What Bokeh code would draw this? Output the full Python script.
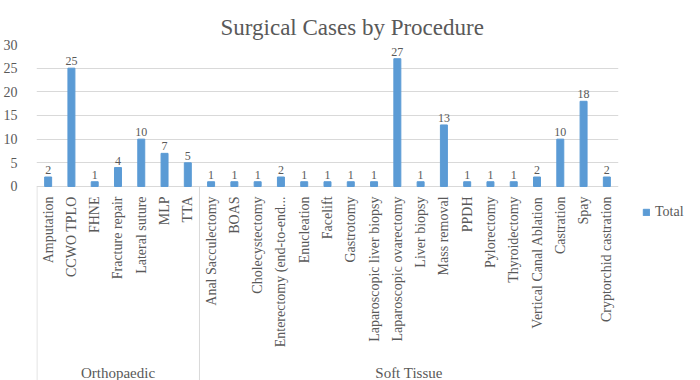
import math
from bokeh.plotting import figure
from bokeh.models import FactorRange, ColumnDataSource, Range1d, FixedTicker, Legend, LegendItem
from bokeh.core.properties import value
from bokeh.embed import file_html
from bokeh.resources import INLINE

title = "Surgical Cases by Procedure"
groups = ["Orthopaedic"] * 7 + ["Soft Tissue"] * 21
procedures = [
    "Amputation", "CCWO TPLO", "FHNE", "Fracture repair", "Lateral suture", "MLP", "TTA",
    "Anal Sacculectomy", "BOAS", "Cholecystectomy", "Enterectomy (end-to-end...",
    "Enucleation", "Facelift", "Gastrotomy", "Laparoscopic liver biopsy",
    "Laparoscopic ovarectomy", "Liver biopsy", "Mass removal", "PPDH", "Pylorectomy",
    "Thyroidectomy", "Vertical Canal Ablation", "Castration", "Spay", "Cryptorchid castration",
]
totals = [2, 25, 1, 4, 10, 7, 5,
          1, 1, 1, 2, 1, 1, 1, 1, 27, 1, 13, 1, 1, 1, 2, 10, 18, 2]
y_ticks = [0, 5, 10, 15, 20, 25, 30]

FONT = "Liberation Serif"
TEXT = "#595959"
GRID = "#D9D9D9"
BAR = "#5B9BD5"
AXIS_DEPTH = -41  # extent of the category-label band below zero (style)

factors = list(zip(groups, procedures))
src = ColumnDataSource(dict(x=factors, top=totals, label=[str(v) for v in totals]))

p = figure(
    x_range=FactorRange(*factors, group_padding=0, factor_padding=0, range_padding=0),
    y_range=Range1d(AXIS_DEPTH, 30),
    frame_width=582, frame_height=336,
    output_backend="svg", toolbar_location=None,
    min_border_left=36, min_border_top=44, min_border_right=82, min_border_bottom=0,
    title=title,
)

p.title.text_font = FONT
p.title.text_font_size = "23px"
p.title.text_font_style = "normal"
p.title.text_color = TEXT
p.title.align = "left"
p.title.offset = 184

r = p.vbar(x="x", top="top", width=0.3, source=src, color=BAR)
p.text(x="x", y="top", text="label", source=src, y_offset=-3,
       text_align="center", text_baseline="bottom",
       text_font=value(FONT), text_font_size="12px", text_color=TEXT)

# category labels (vertical, reading upward) hanging below the zero line
p.text(x="x", y=0, text="x2", source=ColumnDataSource(dict(x=factors, x2=procedures)),
       angle=math.pi / 2, y_offset=10, text_align="right", text_baseline="middle",
       text_font=value(FONT), text_font_size="14px", text_color=TEXT)

# group labels and separators
group_names = list(dict.fromkeys(groups))
p.text(x=group_names, y=[AXIS_DEPTH] * len(group_names), text=group_names,
       y_offset=-8, text_align="center", text_baseline="middle",
       text_font=value(FONT), text_font_size="15px", text_color=TEXT)
bounds = [0]
for g in group_names:
    bounds.append(bounds[-1] + groups.count(g))
bounds[0] = 0.02
bounds[-1] = len(groups) - 0.02
p.segment(x0=bounds, y0=[0] * len(bounds), x1=bounds, y1=[AXIS_DEPTH] * len(bounds),
          line_color=GRID, line_width=1)

legend = Legend(items=[LegendItem(label="Total", renderers=[r])],
                label_text_font=FONT, label_text_font_size="14px", label_text_color=TEXT,
                glyph_width=8, glyph_height=8, border_line_color=None, label_standoff=5,
                background_fill_alpha=0, location=(24, 160), padding=4, margin=0)
p.add_layout(legend, "right")

p.yaxis.ticker = FixedTicker(ticks=y_ticks)
p.yaxis.axis_line_color = None
p.yaxis.major_tick_line_color = None
p.yaxis.minor_tick_line_color = None
p.yaxis.major_label_text_font = FONT
p.yaxis.major_label_text_font_size = "14px"
p.yaxis.major_label_text_color = TEXT
p.yaxis.major_label_standoff = 13

p.xaxis.visible = False
p.xgrid.grid_line_color = None
p.ygrid.grid_line_color = GRID
p.ygrid.ticker = FixedTicker(ticks=y_ticks)
p.outline_line_color = None

open("out.html", "w").write(file_html(p, INLINE))
